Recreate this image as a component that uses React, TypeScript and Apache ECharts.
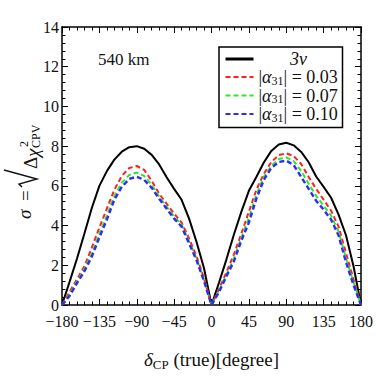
import React, { useEffect, useRef } from "react";
import * as echarts from "echarts";

const SERIF = "Liberation Serif";

const deltaCP = [
  -180, -171, -162, -153, -144, -135, -126, -117, -108, -99, -90, -81, -72, -63, -54, -45, -36, -27, -18, -9,
  0, 9, 18, 27, 36, 45, 54, 63, 72, 81, 90, 99, 108, 117, 126, 135, 144, 153, 162, 171, 180,
];

const sigma3nu = [
  0, 1.15, 2.33, 3.6, 4.9, 6.0, 6.74, 7.32, 7.72, 7.95, 8.0, 7.87, 7.56, 7.08, 6.43, 5.85, 5.3, 4.35, 3.17, 1.85,
  0, 1.12, 2.3, 3.55, 4.7, 5.75, 6.45, 7.18, 7.76, 8.08, 8.17, 8.04, 7.71, 7.19, 6.47, 5.95, 5.4, 4.55, 3.5, 1.95, 0,
];

const sigmaA003 = [
  0, 0.65, 1.3, 1.95, 2.9, 3.9, 4.85, 5.8, 6.5, 6.9, 7.0, 6.8, 6.25, 5.6, 5.1, 4.6, 4.15, 3.35, 2.45, 1.35,
  0, 0.8, 1.65, 2.55, 3.6, 4.7, 5.8, 6.6, 7.2, 7.55, 7.64, 7.5, 7.1, 6.45, 5.85, 5.3, 4.75, 3.95, 2.6, 1.3, 0,
];

const sigmaA007 = [
  0, 0.53, 1.18, 1.8, 2.6, 3.6, 4.5, 5.5, 6.15, 6.55, 6.67, 6.5, 6.05, 5.45, 4.95, 4.45, 4.05, 3.2, 2.35, 1.25,
  0, 0.72, 1.53, 2.35, 3.4, 4.4, 5.55, 6.45, 7.0, 7.35, 7.43, 7.25, 6.75, 6.1, 5.5, 5.0, 4.5, 3.7, 2.35, 1.15, 0,
];

const sigmaA010 = [
  0, 0.45, 1.1, 1.7, 2.45, 3.4, 4.3, 5.3, 5.95, 6.35, 6.46, 6.3, 5.9, 5.35, 4.85, 4.35, 3.95, 3.1, 2.25, 1.2,
  0, 0.65, 1.45, 2.2, 3.25, 4.15, 5.35, 6.3, 6.9, 7.2, 7.27, 7.05, 6.45, 5.85, 5.25, 4.8, 4.3, 3.5, 2.15, 1.0, 0,
];

const seriesNames = ["3ν", "|α31| = 0.03", "|α31| = 0.07", "|α31| = 0.10"];
const legendLabels = [
  "{nu|3ν}",
  "{t||}{a|α}{s|31}{t|| = 0.03}",
  "{t||}{a|α}{s|31}{t|| = 0.07}",
  "{t||}{a|α}{s|31}{t|| = 0.10}",
];
const seriesColors = ["#000000", "#ff1f1f", "#2ee62e", "#2a2aff"];
const baselineLabel = "540 km";

export default function App() {
  const ref = useRef<HTMLDivElement>(null);

  useEffect(() => {
    const chart = echarts.init(ref.current!, null, { renderer: "svg" });

    const axisCommon = {
      axisLine: { show: true, onZero: false, lineStyle: { color: "#000", width: 1.5 } },
      axisTick: { show: true, inside: true, length: 6, lineStyle: { color: "#000", width: 1 } },
      minorTick: { show: true, splitNumber: 5, length: 3.5, lineStyle: { color: "#000", width: 1 } },
      splitLine: { show: false },
      minorSplitLine: { show: false },
    };

    const tickFmt = (v: number) => (v < 0 ? "\u2212" + Math.abs(v) : String(v));

    const allData = [sigma3nu, sigmaA003, sigmaA007, sigmaA010];

    const series = allData.map((arr, i) => ({
      name: seriesNames[i],
      type: "line",
      data: deltaCP.map((x, j) => [x, arr[j]]),
      symbol: "none",
      showSymbol: false,
      smooth: false,
      lineStyle: {
        color: seriesColors[i],
        width: i === 0 ? 2 : i === 3 ? 2.4 : 2,
        type: i === 0 ? "solid" : [5, 3],
      },
      itemStyle: { color: seriesColors[i] },
      z: 2 + i,
    }));

    const txt = (text: string, x: number, y: number, size: number, italic = false) => ({
      type: "text",
      x,
      y,
      style: {
        text,
        fontFamily: SERIF,
        fontStyle: italic ? "italic" : "normal",
        fontSize: size,
        fill: "#111",
        align: "left",
        verticalAlign: "middle",
        textAlign: "left",
        textVerticalAlign: "middle",
      },
    });

    const option = {
      animation: false,
      backgroundColor: "#fff",
      grid: { left: 62, right: 15, top: 27, bottom: 60 },
      xAxis: [
        {
          type: "value",
          min: -180,
          max: 180,
          interval: 45,
          position: "bottom",
          ...axisCommon,
          axisLabel: { formatter: tickFmt, fontFamily: SERIF, fontSize: 16, color: "#111", margin: 8 },
          name: "{d|δ}{s|CP}{n| (true)[degree]}",
          nameLocation: "middle",
          nameGap: 42,
          nameTextStyle: {
            rich: {
              d: { fontFamily: SERIF, fontStyle: "italic", fontSize: 19, color: "#111", lineHeight: 24 },
              s: { fontFamily: SERIF, fontSize: 13, color: "#111", verticalAlign: "bottom", lineHeight: 18 },
              n: { fontFamily: SERIF, fontSize: 19, color: "#111", lineHeight: 24 },
            },
          },
        },
        {
          type: "value",
          min: -180,
          max: 180,
          interval: 45,
          position: "top",
          ...axisCommon,
          axisLabel: { show: false },
        },
      ],
      yAxis: [
        {
          type: "value",
          min: 0,
          max: 14,
          interval: 2,
          position: "left",
          ...axisCommon,
          axisLabel: { fontFamily: SERIF, fontSize: 16, color: "#111", margin: 3 },
        },
        {
          type: "value",
          min: 0,
          max: 14,
          interval: 2,
          position: "right",
          ...axisCommon,
          axisLabel: { show: false },
        },
      ],
      legend: {
        orient: "vertical",
        left: 219,
        top: 47,
        padding: [3, 4, 4, 5],
        itemGap: 0,
        itemWidth: 28,
        itemHeight: 19,
        borderColor: "#000",
        borderWidth: 1.5,
        borderRadius: 0,
        backgroundColor: "#fff",
        itemStyle: { opacity: 0, borderWidth: 0 },
        data: seriesNames.map((n, i) => (i === 0 ? { name: n, lineStyle: { width: 3 } } : { name: n })),
        formatter: (name: string) => legendLabels[seriesNames.indexOf(name)],
        textStyle: {
          color: "#111",
          rich: {
            nu: { fontFamily: SERIF, fontStyle: "italic", fontSize: 18, width: 80, align: "center", lineHeight: 19 },
            t: { fontFamily: SERIF, fontSize: 18, lineHeight: 19 },
            a: { fontFamily: SERIF, fontStyle: "italic", fontSize: 18, lineHeight: 19 },
            s: { fontFamily: SERIF, fontSize: 12, verticalAlign: "bottom", lineHeight: 15 },
          },
        },
      },
      graphic: [
        {
          type: "text",
          left: 98,
          top: 51,
          style: { text: baselineLabel, fontFamily: SERIF, fontSize: 17, fill: "#111" },
        },
        {
          type: "group",
          x: 0,
          y: 226,
          rotation: Math.PI / 2,
          children: [
            txt("σ", 7, 24, 19, true),
            txt("=", 25, 25, 19),
            txt("Δ", 57, 30, 19),
            txt("χ", 69, 32, 19, true),
            txt("2", 79, 24, 12),
            txt("CPV", 78, 36, 12),
          ],
        },
        {
          type: "polyline",
          shape: { points: [[22, 187], [19, 184], [37, 179], [4, 170]] },
          style: { stroke: "#111", lineWidth: 1.4, fill: null },
        },
      ],
      series,
    };

    chart.setOption(option as any);
    return () => chart.dispose();
  }, []);

  return (
    <div
      ref={ref}
      style={{ position: "fixed", left: 0, top: 0, width: 376, height: 376, background: "#fff" }}
    />
  );
}
